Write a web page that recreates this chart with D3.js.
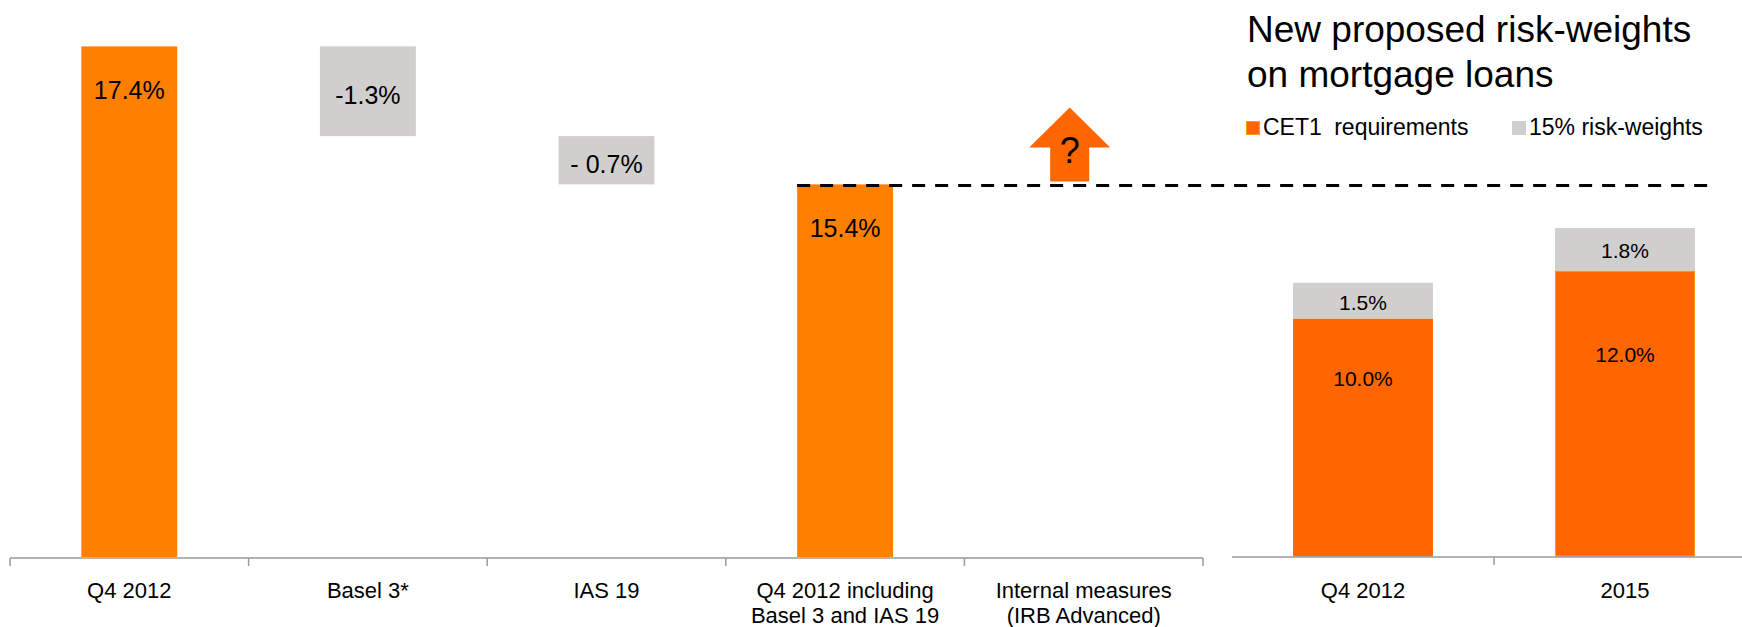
<!DOCTYPE html>
<html>
<head>
<meta charset="utf-8">
<script src="https://cdn.jsdelivr.net/npm/d3@7/dist/d3.min.js"></script>
<style>
  html, body { margin: 0; padding: 0; background: #fff; }
  svg { display: block; font-family: "Liberation Sans", Arial, sans-serif; }
</style>
</head>
<body>
<svg id="chart" width="1742" height="627"></svg>
<script>
// Capital ratio bridge (waterfall)
const bridgeCategories = ["Q4 2012", "Basel 3*", "IAS 19", "Q4 2012 including\nBasel 3 and IAS 19", "Internal measures\n(IRB Advanced)"];
const bridgeValues = [17.4, -1.3, -0.7, 15.4, null];
const bridgeKinds = ["total", "change", "change", "total", "pending"];
const bridgeLabels = ["17.4%", "-1.3%", "- 0.7%", "15.4%", "?"];

// Mortgage risk-weight panel (stacked)
const rwCategories = ["Q4 2012", "2015"];
const cet1Values = [10.0, 12.0];
const riskWeightValues = [1.5, 1.8];
const cet1Labels = ["10.0%", "12.0%"];
const riskWeightLabels = ["1.5%", "1.8%"];
const seriesNames = ["CET1 requirements", "15% risk-weights"];
const panelTitle = ["New proposed risk-weights", "on mortgage loans"];

const ORANGE = "#FF8000", ORANGE_DARK = "#FF6600", GREY = "#D0CFCE", AXIS = "#9A9A9A";

const svg = d3.select("#chart");

// ---------- Left: waterfall ----------
const xL = d3.scaleBand().domain(bridgeCategories).range([10, 1203]).paddingInner(0.598).paddingOuter(0.299);
const yL = d3.scaleLinear().domain([10, 18]).range([557, 5]);

// running totals for the floating bars
let running = 0;
const bridge = bridgeCategories.map((c, i) => {
  const v = bridgeValues[i], kind = bridgeKinds[i];
  let lo = null, hi = null;
  if (kind === "total") { lo = yL.domain()[0]; hi = v; running = v; }
  else if (kind === "change") { hi = running; lo = running + v; running = lo; }
  return { c, v, kind, lo, hi, label: bridgeLabels[i] };
});

const gL = svg.append("g");
gL.selectAll("rect.bar").data(bridge.filter(d => d.lo !== null)).join("rect")
  .attr("class", "bar")
  .attr("x", d => xL(d.c))
  .attr("width", xL.bandwidth())
  .attr("y", d => yL(d.hi))
  .attr("height", d => yL(d.lo) - yL(d.hi))
  .attr("fill", d => d.kind === "total" ? ORANGE : GREY);

gL.selectAll("text.val").data(bridge.filter(d => d.lo !== null)).join("text")
  .attr("class", "val")
  .attr("x", d => xL(d.c) + xL.bandwidth() / 2)
  .attr("y", d => d.kind === "total" ? yL(d.hi) + 53 : (yL(d.hi) + yL(d.lo)) / 2 + 13)
  .attr("text-anchor", "middle")
  .attr("font-size", 25)
  .attr("fill", "#000")
  .text(d => d.label);

// Reference level after adjustments
const level = bridge[3];
gL.append("line")
  .attr("x1", xL(level.c)).attr("x2", 1717)
  .attr("y1", yL(level.hi) + 1).attr("y2", yL(level.hi) + 1)
  .attr("stroke", "#000").attr("stroke-width", 3)
  .attr("stroke-dasharray", "13 10");

// Upward arrow for the pending item
const pend = bridge[4];
const ax = xL(pend.c) + xL.bandwidth() / 2 - 14;
const aBottom = yL(level.hi) - 3, aTip = aBottom - 74, aNeck = aBottom - 34;
const arrow = d3.path();
arrow.moveTo(ax, aTip);
arrow.lineTo(ax + 40.5, aNeck);
arrow.lineTo(ax + 19.5, aNeck);
arrow.lineTo(ax + 19.5, aBottom);
arrow.lineTo(ax - 19.5, aBottom);
arrow.lineTo(ax - 19.5, aNeck);
arrow.lineTo(ax - 40.5, aNeck);
arrow.closePath();
gL.append("path").attr("d", arrow.toString()).attr("fill", ORANGE_DARK);
gL.append("text")
  .attr("x", ax).attr("y", aBottom - 18)
  .attr("text-anchor", "middle").attr("font-size", 36).attr("fill", "#000")
  .text(pend.label);

// Category axis with boundary ticks
const axL = gL.append("g");
axL.append("line").attr("x1", xL.range()[0]).attr("x2", xL.range()[1])
  .attr("y1", 558).attr("y2", 558).attr("stroke", AXIS).attr("stroke-width", 1.5);
const bounds = bridgeCategories.map(c => xL(c) - xL.step() * xL.paddingInner() / 2).concat([xL.range()[1]]);
bounds[0] = xL.range()[0];
axL.selectAll("line.tick").data(bounds).join("line")
  .attr("class", "tick")
  .attr("x1", d => d).attr("x2", d => d)
  .attr("y1", 558).attr("y2", 566)
  .attr("stroke", AXIS).attr("stroke-width", 1.5);

function catLabels(g, scale, cats) {
  g.selectAll("text.cat").data(cats).join("text")
    .attr("class", "cat")
    .attr("x", d => scale(d) + scale.bandwidth() / 2)
    .attr("y", 598)
    .attr("text-anchor", "middle")
    .attr("font-size", 22)
    .attr("fill", "#000")
    .each(function (d) {
      const lines = d.split("\n");
      const t = d3.select(this);
      lines.forEach((ln, i) => {
        t.append("tspan").attr("x", scale(d) + scale.bandwidth() / 2)
          .attr("dy", i === 0 ? 0 : 25).text(ln);
      });
    });
}
catLabels(gL, xL, bridgeCategories);

// ---------- Right: stacked CET1 + risk-weight add-on ----------
const xR = d3.scaleBand().domain(rwCategories).range([1232, 1756]).paddingInner(0.466).paddingOuter(0.233);
const yR = d3.scaleLinear().domain([0, 22]).range([556.5, 32.9]);

const stackRows = rwCategories.map((c, i) => ({ c, cet1: cet1Values[i], rw: riskWeightValues[i] }));
const stacked = d3.stack().keys(["cet1", "rw"])(stackRows);
const fills = [ORANGE_DARK, GREY];
const gR = svg.append("g");

stacked.forEach((layer, li) => {
  gR.selectAll("rect.s" + li).data(layer).join("rect")
    .attr("class", "s" + li)
    .attr("x", d => xR(d.data.c))
    .attr("width", xR.bandwidth())
    .attr("y", d => yR(d[1]))
    .attr("height", d => yR(d[0]) - yR(d[1]))
    .attr("fill", fills[li]);
});
// light rim on the 2015 CET1 bar
gR.append("rect")
  .attr("x", xR(rwCategories[1]) + 0.5).attr("width", xR.bandwidth() - 1)
  .attr("y", yR(cet1Values[1]) + 0.5).attr("height", yR(0) - yR(cet1Values[1]) - 1)
  .attr("fill", "none").attr("stroke", "#FF9A1A").attr("stroke-width", 1);

gR.selectAll("text.cv").data(stackRows).join("text")
  .attr("class", "cv")
  .attr("x", d => xR(d.c) + xR.bandwidth() / 2)
  .attr("y", d => (yR(0) + yR(d.cet1)) / 2 - 52)
  .attr("text-anchor", "middle").attr("font-size", 21).attr("fill", "#000")
  .text((d, i) => cet1Labels[i]);
gR.selectAll("text.rv").data(stackRows).join("text")
  .attr("class", "rv")
  .attr("x", d => xR(d.c) + xR.bandwidth() / 2)
  .attr("y", d => (yR(d.cet1) + yR(d.cet1 + d.rw)) / 2 + 9)
  .attr("text-anchor", "middle").attr("font-size", 21).attr("fill", "#000")
  .text((d, i) => riskWeightLabels[i]);

const axR = gR.append("g");
axR.append("line").attr("x1", xR.range()[0]).attr("x2", 1742)
  .attr("y1", 557).attr("y2", 557).attr("stroke", AXIS).attr("stroke-width", 1.5);
axR.selectAll("line.tick").data(rwCategories.slice(1)).join("line")
  .attr("class", "tick")
  .attr("x1", d => xR(d) - xR.step() * xR.paddingInner() / 2)
  .attr("x2", d => xR(d) - xR.step() * xR.paddingInner() / 2)
  .attr("y1", 557).attr("y2", 565)
  .attr("stroke", AXIS).attr("stroke-width", 1.5);
catLabels(gR, xR, rwCategories);

// Panel title
svg.append("text").attr("x", 1247).attr("y", 42).attr("font-size", 37).attr("fill", "#000")
  .selectAll("tspan").data(panelTitle).join("tspan")
  .attr("x", 1247).attr("dy", (d, i) => i === 0 ? 0 : 45).text(d => d);

// Legend
const legend = svg.append("g");
const legendX = [1246, 1512];
seriesNames.forEach((name, i) => {
  legend.append("rect")
    .attr("x", legendX[i] + 0.5).attr("y", 121.5).attr("width", 13).attr("height", 13)
    .attr("fill", fills[i])
    .attr("stroke", i === 0 ? "#FF9A1A" : GREY).attr("stroke-width", 1);
  legend.append("text")
    .attr("x", legendX[i] + 17).attr("y", 135)
    .attr("font-size", 23).attr("fill", "#000")
    .attr("word-spacing", i === 0 ? 6 : 0)
    .text(name);
});
</script>
</body>
</html>
